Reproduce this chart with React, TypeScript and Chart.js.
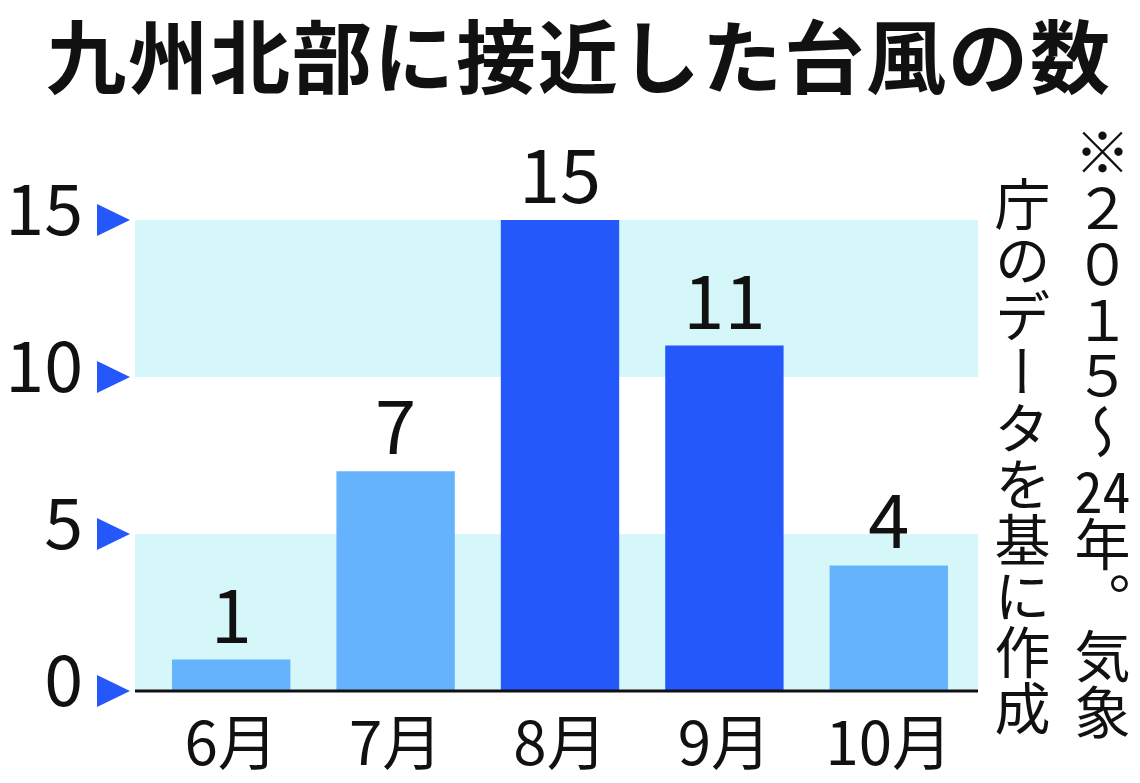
import { useEffect, useRef } from "react"
import { Chart, registerables } from "chart.js"

Chart.register(...registerables)

const months = ["6月", "7月", "8月", "9月", "10月"]
const counts = [1, 7, 15, 11, 4]
const barColors = ["#66b3fd", "#66b3fd", "#2458fb", "#2458fb", "#66b3fd"]
const bands = [
  [0, 5],
  [10, 15],
]

const FONT = "'Noto Sans CJK JP', 'Noto Sans', sans-serif"

const decorPlugin = {
  id: "decor",
  beforeDatasetsDraw(chart: any) {
    const { ctx, chartArea, scales } = chart
    const y = scales.y
    ctx.save()
    ctx.fillStyle = "#d6f7f9"
    const left = chartArea.left - 14
    const right = chartArea.right + 7
    bands.forEach(([a, b]) => {
      const top = y.getPixelForValue(b)
      const bottom = y.getPixelForValue(a)
      ctx.fillRect(left, top, right - left, bottom - top)
    })
    ctx.restore()
  },
  afterDatasetsDraw(chart: any) {
    const { ctx, chartArea, scales } = chart
    const y = scales.y
    ctx.save()

    // base line
    ctx.strokeStyle = "#111"
    ctx.lineWidth = 3
    ctx.beginPath()
    ctx.moveTo(chartArea.left - 14, chartArea.bottom)
    ctx.lineTo(chartArea.right + 7, chartArea.bottom)
    ctx.stroke()

    // y tick labels with blue triangles
    y.ticks.forEach((t: any) => {
      const py = y.getPixelForValue(t.value)
      const tip = chartArea.left - 19
      ctx.fillStyle = "#2458fb"
      ctx.beginPath()
      ctx.moveTo(tip, py)
      ctx.lineTo(tip - 33, py - 16)
      ctx.lineTo(tip - 33, py + 16)
      ctx.closePath()
      ctx.fill()

      ctx.fillStyle = "#111"
      ctx.font = `70px ${FONT}`
      ctx.textAlign = "right"
      ctx.textBaseline = "middle"
      ctx.fillText(String(t.value), chartArea.left - 66, py - 12)
    })

    // value labels
    ctx.fillStyle = "#111"
    ctx.font = `74px ${FONT}`
    ctx.textAlign = "center"
    ctx.textBaseline = "alphabetic"
    chart.getDatasetMeta(0).data.forEach((bar: any, i: number) => {
      ctx.fillText(String(counts[i]), bar.x, bar.y - 17)
    })
    ctx.restore()
  },
}

function TyphoonChart() {
  const chartRef = useRef<HTMLCanvasElement>(null)
  const chartInstance = useRef<Chart | null>(null)

  useEffect(() => {
    if (!chartRef.current) return
    if (chartInstance.current) chartInstance.current.destroy()
    const ctx = chartRef.current.getContext("2d")
    if (!ctx) return

    chartInstance.current = new Chart(ctx, {
      type: "bar",
      data: {
        labels: months,
        datasets: [
          {
            data: counts,
            backgroundColor: barColors,
            borderWidth: 0,
            categoryPercentage: 1,
            barPercentage: 0.72,
          },
        ],
      },
      options: {
        responsive: true,
        maintainAspectRatio: false,
        animation: false,
        layout: { padding: { left: 0, right: 169, top: 220, bottom: 0 } },
        plugins: {
          legend: { display: false },
          tooltip: { enabled: false },
        },
        scales: {
          x: {
            grid: { display: false, drawTicks: false },
            border: { display: false },
            ticks: {
              color: "#111",
              font: { family: FONT, size: 60 },
              padding: 15,
            },
            afterFit: (s: any) => {
              s.height = 92
            },
          },
          y: {
            min: 0,
            max: 15,
            grid: { display: false, drawTicks: false },
            border: { display: false },
            ticks: { stepSize: 5, display: false },
            afterFit: (s: any) => {
              s.width = 149
            },
          },
        },
      },
      plugins: [decorPlugin],
    })

    return () => {
      if (chartInstance.current) {
        chartInstance.current.destroy()
        chartInstance.current = null
      }
    }
  }, [])

  return (
    <div style={{ position: "absolute", left: 0, top: 0, width: 1140, height: 783 }}>
      <canvas ref={chartRef} />
    </div>
  )
}

export default function App() {
  return (
    <div
      style={{
        position: "absolute",
        left: 0,
        top: 0,
        width: 1140,
        height: 783,
        background: "#fff",
        overflow: "hidden",
        fontFamily: FONT,
        color: "#111",
      }}
    >
      <TyphoonChart />
      <div
        style={{
          position: "absolute",
          left: 46,
          top: 12,
          fontSize: 80,
          fontWeight: 700,
          lineHeight: "80px",
          letterSpacing: 2,
          whiteSpace: "nowrap",
        }}
      >
        九州北部に接近した台風の数
      </div>
      <div
        style={{
          position: "absolute",
          left: 1074,
          top: 124,
          writingMode: "vertical-rl",
          fontSize: 56,
          lineHeight: "56px",
          whiteSpace: "nowrap",
        }}
      >
        ※２０１５～<span style={{ textCombineUpright: "all" } as any}>24</span>年。気象
      </div>
      <div
        style={{
          position: "absolute",
          left: 994,
          top: 176,
          writingMode: "vertical-rl",
          fontSize: 56,
          lineHeight: "56px",
          whiteSpace: "nowrap",
        }}
      >
        庁のデータを基に作成
      </div>
    </div>
  )
}
